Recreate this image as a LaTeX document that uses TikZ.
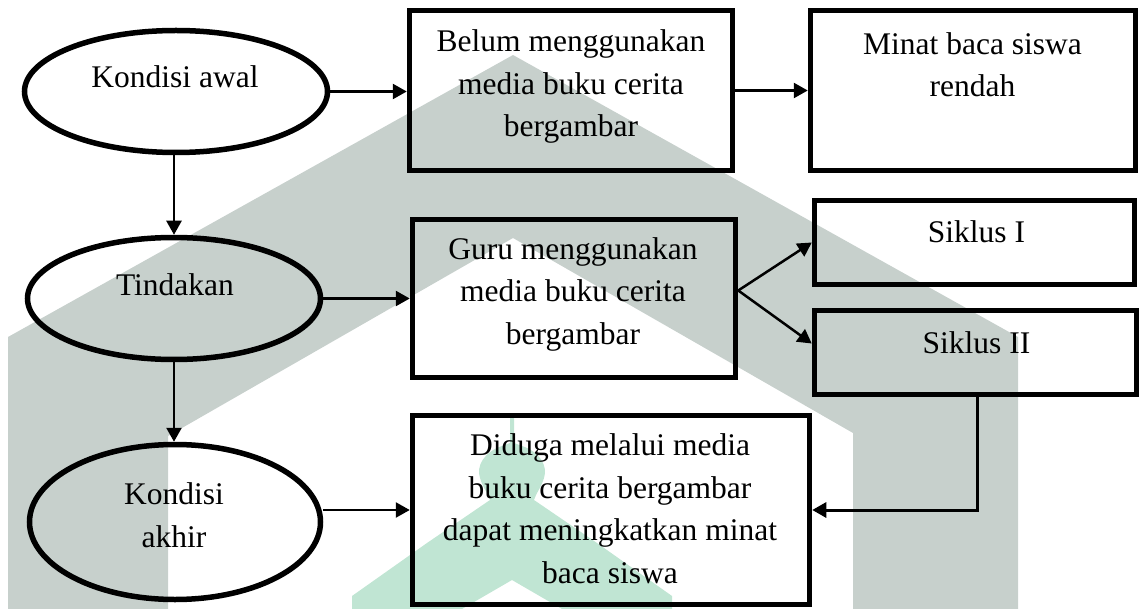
\documentclass[tikz,border=0pt]{standalone}
\usepackage{fontspec}
\setmainfont{Liberation Serif}
\usetikzlibrary{shapes.geometric,arrows.meta}
\definecolor{wmgray}{RGB}{199,208,204}
\definecolor{wmgreen}{RGB}{192,229,211}
\begin{document}
\begin{tikzpicture}[x=1pt,y=-1pt,
  box/.style={draw=black,line width=5.5pt,rectangle,inner sep=0pt},
  oval/.style={draw=black,line width=5.5pt,ellipse,inner sep=0pt},
  txt/.style={font=\fontsize{31.5}{42.5}\selectfont, align=center, inner sep=0pt, anchor=base},
  conn/.style={line width=2.5pt,-{Triangle[length=14pt,width=15pt]}}]
\useasboundingbox (0,0) rectangle (1139,609);
% watermark
\fill[wmgray] (8,609) -- (8,337) -- (513,55) -- (1018,337) -- (1018,609) -- (853,609)
  -- (853,433) -- (513,238) -- (168,436) -- (168,609) -- cycle;
\fill[wmgreen] (510,415) -- (514,415) -- (514,443) -- (522,446)
  .. controls (540,452) and (548,466) .. (544,478)
  .. controls (541,488) and (536,493) .. (534,500)
  -- (597,543) -- (672,596) -- (672,609) -- (562,609) -- (512,580) -- (462,609)
  -- (352,609) -- (352,596) -- (427,543) -- (490,500)
  .. controls (488,493) and (483,488) .. (480,478)
  .. controls (476,466) and (484,452) .. (502,446) -- (510,443) -- cycle;
% ellipses
\node[oval,minimum width=303pt,minimum height=122pt] (awal) at (176,91.5) {};
\node[oval,minimum width=293pt,minimum height=122pt] (tindakan) at (174,298.5) {};
\node[oval,minimum width=291pt,minimum height=155pt] (akhir) at (175,522) {};
% boxes
\node[box,minimum width=323pt,minimum height=160pt] (belum) at (571,90.5) {};
\node[box,minimum width=325pt,minimum height=160pt] (minat) at (973,90.5) {};
\node[box,minimum width=323pt,minimum height=158pt] (guru) at (574,298.5) {};
\node[box,minimum width=320pt,minimum height=84pt] (sik1) at (974.5,242.5) {};
\node[box,minimum width=322pt,minimum height=84pt] (sik2) at (975.5,352.5) {};
\node[box,minimum width=397pt,minimum height=189pt] (diduga) at (611,510) {};
% texts (anchor = baseline of last line)
\node[txt] (tawal) at (175,88) {Kondisi awal};
\node[txt] (ttind) at (175,295) {Tindakan};
\node[txt] (takhir) at (174,547) {Kondisi\\akhir};
\node[txt] (tbelum) at (571,137) {Belum menggunakan\\media buku cerita\\bergambar};
\node[txt] (tminat) at (972.5,97) {Minat baca siswa\\rendah};
\node[txt] (tguru) at (573,344) {Guru menggunakan\\media buku cerita\\bergambar};
\node[txt] (tsik1) at (976.5,243) {Siklus I};
\node[txt] (tsik2) at (976.5,353) {Siklus II};
\node[txt] (tdid) at (610,583) {Diduga melalui media\\buku cerita bergambar\\dapat meningkatkan minat\\baca siswa};
% connectors
\draw[conn] (awal.east) -- (awal.east -| belum.west);
\draw[conn] (belum.east) -- (minat.west);
\draw[conn] (tindakan.north |- awal.south) -- (tindakan.north);
\draw[conn] (tindakan.east) -- (tindakan.east -| guru.west);
\draw[conn] (tindakan.south) -- (tindakan.south |- akhir.north);
\draw[conn] ([yshift=8pt]guru.east) -- (sik1.west);
\draw[conn] ([yshift=8pt]guru.east) -- ([yshift=9pt]sik2.west);
\draw[conn] (akhir.east |- diduga.west) -- (diduga.west);
\draw[line width=3pt,-{Triangle[length=14pt,width=15pt]}] ([xshift=1.5pt]sik2.south) |- (diduga.east);
\end{tikzpicture}
\end{document}
